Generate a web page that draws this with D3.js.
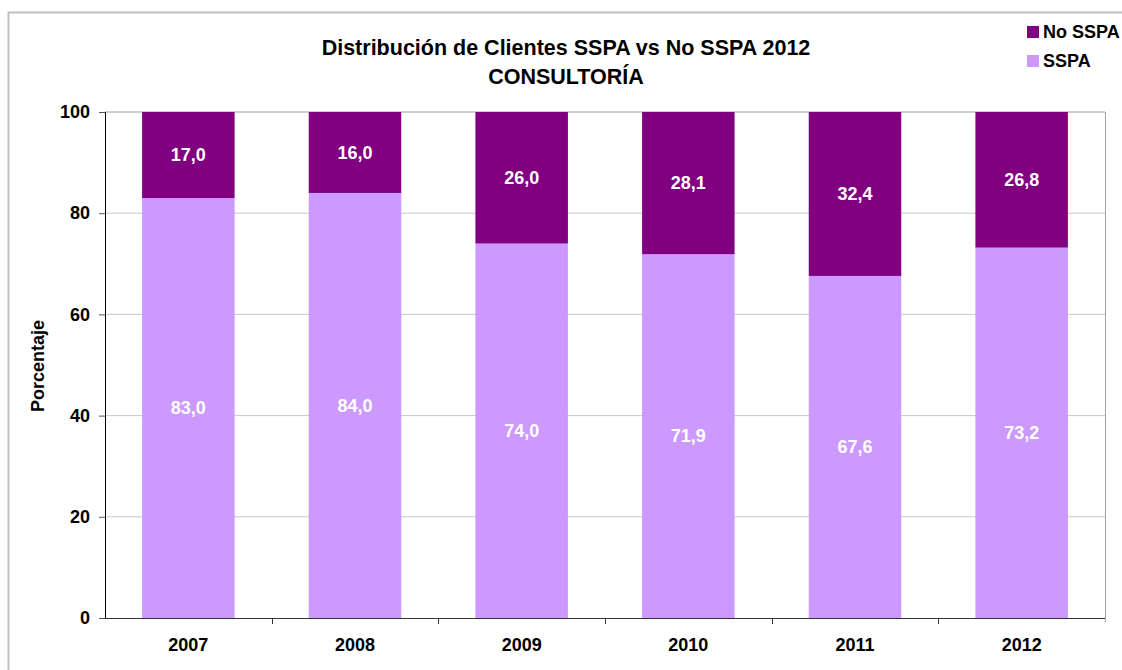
<!DOCTYPE html>
<html><head><meta charset="utf-8">
<script src="https://cdn.jsdelivr.net/npm/d3@7"></script>
<style>body{margin:0;background:#fff}svg{display:block;font-family:"Liberation Sans",Arial,sans-serif}</style>
</head><body><svg id="c" width="1122" height="670"></svg>
<script>
const categories = ["2007","2008","2009","2010","2011","2012"];
const sspa = [83.0, 84.0, 74.0, 71.9, 67.6, 73.2];
const noSspa = [17.0, 16.0, 26.0, 28.1, 32.4, 26.8];
const yTicks = [0,20,40,60,80,100];
const seriesNames = ["No SSPA","SSPA"];
const colors = {"SSPA":"#CC99FF","No SSPA":"#800080"};

const svg = d3.select("#c");
const m = {l:105, r:1105, t:112, b:618};
// outer border
svg.append("path").attr("d","M8.5,670 V12.5 H1122").attr("fill","none").attr("stroke","#c0c0c0").attr("stroke-width",2);

const x = d3.scaleBand().domain(categories).range([m.l,m.r]).paddingInner(0.445).paddingOuter(0.2225);
const xb = d3.scaleBand().domain(categories).range([m.l,m.r]);
const y = d3.scaleLinear().domain([0,100]).range([m.b,m.t]);

// gridlines
svg.append("g").selectAll("line").data(yTicks.filter(d=>d>0)).join("line")
  .attr("x1",m.l).attr("x2",m.r).attr("y1",d=>y(d)).attr("y2",d=>y(d))
  .attr("stroke",d=>d===100?"#a0a0a0":"#c8c8c8").attr("stroke-width",1);
// right border of plot
svg.append("line").attr("x1",m.r+0.5).attr("x2",m.r+0.5).attr("y1",m.t).attr("y2",m.b+4).attr("stroke","#a0a0a0");

const data = categories.map((c,i)=>({c, s:sspa[i], n:noSspa[i]}));
const g = svg.append("g");
g.selectAll("rect.s").data(data).join("rect").attr("class","s")
  .attr("x",d=>x(d.c)).attr("width",x.bandwidth())
  .attr("y",d=>y(d.s)).attr("height",d=>y(0)-y(d.s)).attr("fill",colors["SSPA"]);
g.selectAll("rect.n").data(data).join("rect").attr("class","n")
  .attr("x",d=>x(d.c)).attr("width",x.bandwidth())
  .attr("y",d=>y(d.s+d.n)).attr("height",d=>y(d.s)-y(d.s+d.n)).attr("fill",colors["No SSPA"]);

const fmt = v=>v.toFixed(1).replace(".",",");
g.selectAll("text.s").data(data).join("text")
  .attr("x",d=>x(d.c)+x.bandwidth()/2).attr("y",d=>y(d.s/2)).attr("dy","0.35em")
  .attr("text-anchor","middle").attr("fill","#fff").attr("font-weight","bold").attr("font-size",18)
  .text(d=>fmt(d.s));
g.selectAll("text.n").data(data).join("text")
  .attr("x",d=>x(d.c)+x.bandwidth()/2).attr("y",d=>y(d.s+d.n/2)).attr("dy","0.35em")
  .attr("text-anchor","middle").attr("fill","#fff").attr("font-weight","bold").attr("font-size",18)
  .text(d=>fmt(d.n));

// y axis
const ya = svg.append("g").attr("transform",`translate(${m.l},0)`)
  .call(d3.axisLeft(y).tickValues(yTicks).tickSize(6).tickPadding(9).tickFormat(d3.format("d")));
ya.select(".domain").attr("stroke","#000").attr("d",`M0.5,${m.t}V${m.b}`);
ya.selectAll(".tick line").attr("stroke","#555");
ya.selectAll("text").attr("font-size",18).attr("font-weight","bold").attr("fill","#000").attr("font-family","Liberation Sans,Arial,sans-serif");

// x axis
const xa = svg.append("g").attr("transform",`translate(0,${m.b})`)
  .call(d3.axisBottom(xb).tickSize(0).tickPadding(20));
xa.select(".domain").attr("stroke","#333").attr("d",`M${m.l},0.5H${m.r}`);
xa.selectAll("text").attr("font-size",18).attr("font-weight","bold").attr("fill","#000").attr("font-family","Liberation Sans,Arial,sans-serif");
// x tick marks at band boundaries
svg.append("g").selectAll("line").data(categories.slice(1)).join("line")
  .attr("x1",d=>Math.round(xb(d))+0.5).attr("x2",d=>Math.round(xb(d))+0.5)
  .attr("y1",m.b).attr("y2",m.b+6).attr("stroke","#333");

// title
svg.append("text").attr("x",566).attr("y",55).attr("text-anchor","middle")
  .attr("font-size",21.5).attr("font-weight","bold").text("Distribución de Clientes SSPA vs No SSPA 2012");
svg.append("text").attr("x",566).attr("y",84).attr("text-anchor","middle")
  .attr("font-size",21.5).attr("font-weight","bold").text("CONSULTORÍA");

// y label
svg.append("text").attr("transform","translate(44,366) rotate(-90)").attr("text-anchor","middle")
  .attr("font-size",18).attr("font-weight","bold").text("Porcentaje");

// legend
const lg = svg.append("g").selectAll("g").data(seriesNames).join("g")
  .attr("transform",(d,i)=>`translate(1027,${26+i*29})`);
lg.append("rect").attr("width",12).attr("height",12).attr("fill",d=>colors[d]);
lg.append("text").attr("x",16).attr("y",11.5).attr("font-size",18).attr("font-weight","bold").text(d=>d);
</script></body></html>
